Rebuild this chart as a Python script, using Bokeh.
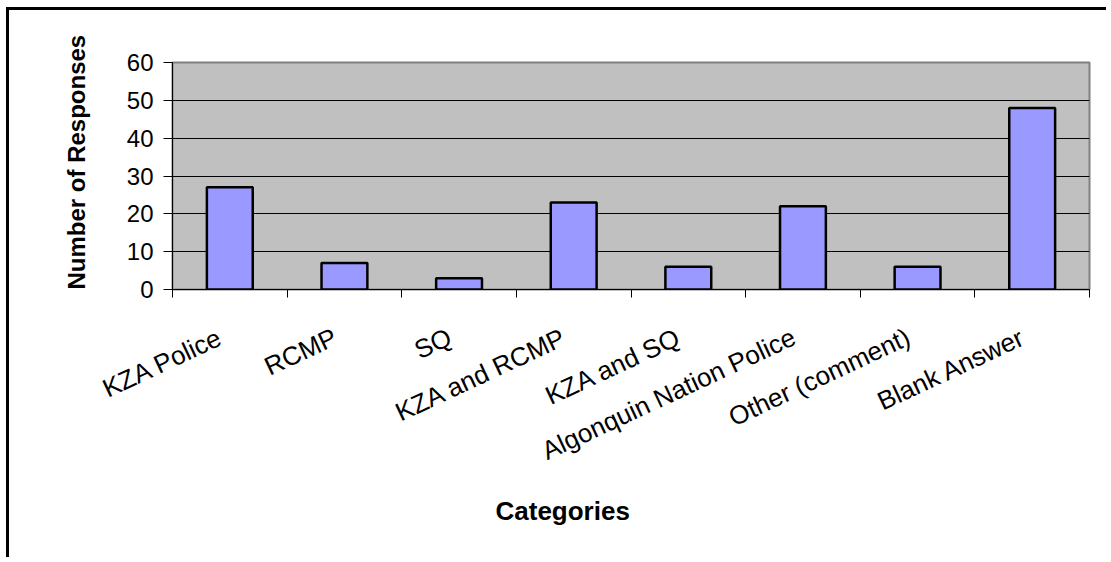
import math
from bokeh.plotting import figure
from bokeh.models import Range1d, FixedTicker, Title
from bokeh.embed import file_html
from bokeh.resources import INLINE

categories = ["KZA Police", "RCMP", "SQ", "KZA and RCMP", "KZA and SQ",
              "Algonquin Nation Police", "Other (comment)", "Blank Answer"]
responses = [27, 7, 3, 23, 6, 22, 6, 48]
y_ticks = [0, 10, 20, 30, 40, 50, 60]
x_title = "Categories"
y_title = "Number of Responses"

n = len(categories)
centers = [i + 0.5 for i in range(n)]
bounds = [i for i in range(n + 1)]
# label anchors sit slightly left of the bar centres, as in the original
label_pos = [c - 0.08 for c in centers]

FONT = "Liberation Sans"

p = figure(width=1100, height=550, output_backend="svg", toolbar_location=None,
           x_range=Range1d(0, n), y_range=Range1d(y_ticks[0], y_ticks[-1]),
           min_border_left=163, min_border_top=52, min_border_right=20,
           min_border_bottom=271,
           styles={"margin-left": "6px", "margin-top": "7px",
                   "border-left": "3px solid black", "border-top": "3px solid black"})

p.background_fill_color = "#C0C0C0"
p.border_fill_color = "white"
p.outline_line_color = "#808080"
p.outline_line_width = 2

p.vbar(x=centers, top=responses, width=0.4, fill_color="#9999FF",
       line_color="black", line_width=2.5)

# y axis
ya = p.yaxis[0]
ya.ticker = FixedTicker(ticks=y_ticks, minor_ticks=[])
ya.major_label_text_font = FONT
ya.major_label_text_font_size = "24px"
ya.major_label_text_color = "black"
ya.major_tick_out = 9
ya.major_tick_in = 0
ya.major_tick_line_color = "black"
ya.minor_tick_line_color = None
ya.axis_line_color = "black"
ya.major_label_standoff = 10

# x axis
xa = p.xaxis[0]
xa.ticker = FixedTicker(ticks=label_pos, minor_ticks=bounds)
xa.major_label_overrides = {c: lab for c, lab in zip(label_pos, categories)}
xa.major_label_orientation = math.radians(25)
xa.major_label_text_font = FONT
xa.major_label_text_font_size = "26px"
xa.major_label_text_color = "black"
xa.major_tick_line_color = None
xa.minor_tick_line_color = "black"
xa.minor_tick_out = 8
xa.minor_tick_in = 0
xa.axis_line_color = "black"
xa.major_label_standoff = 38

p.xgrid.grid_line_color = None
p.ygrid.grid_line_color = "black"
p.ygrid.grid_line_width = 1

p.add_layout(Title(text=y_title, align="left", offset=0, standoff=68,
                   text_font=FONT, text_font_size="24px", text_font_style="bold",
                   text_color="black"), "left")
p.add_layout(Title(text=x_title, align="left", offset=323, standoff=22,
                   text_font=FONT, text_font_size="26px", text_font_style="bold",
                   text_color="black"), "below")

open("out.html", "w").write(file_html(p, INLINE))
